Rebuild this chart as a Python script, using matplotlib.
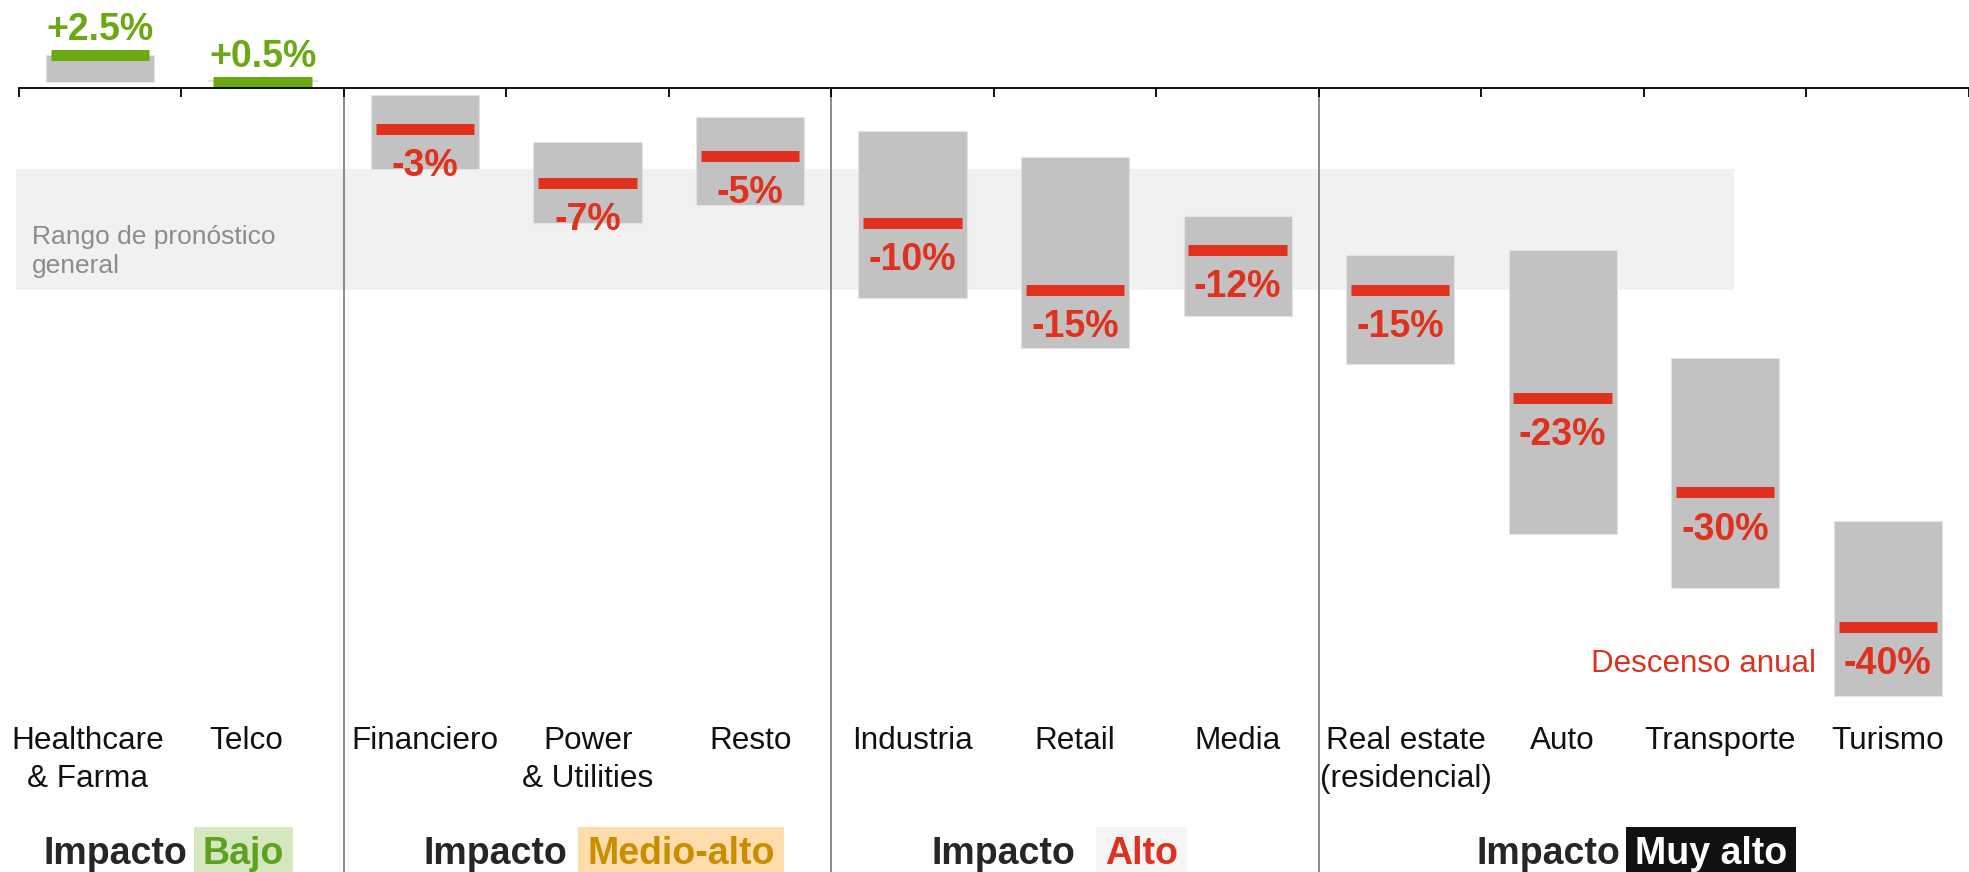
import matplotlib.pyplot as plt
import numpy as np

plt.rcParams['font.family'] = ['Liberation Sans', 'DejaVu Sans']

# descenso anual estimado por sector y rango de pronóstico (%)
sectores = ['Healthcare\n& Farma', 'Telco', 'Financiero', 'Power\n& Utilities', 'Resto',
            'Industria', 'Retail', 'Media', 'Real estate\n(residencial)', 'Auto',
            'Transporte', 'Turismo']
descenso = [2.5, 0.5, -3, -7, -5, -10, -15, -12, -15, -23, -30, -40]
rango_min = [0.5, 0.55, -6.0, -10.0, -8.7, -15.6, -19.3, -16.9, -20.5, -33.1, -37.1, -45.1]
rango_max = [2.5, 0.62, -0.5, -4.0, -2.1, -3.2, -5.1, -9.5, -12.4, -12.0, -20.0, -32.1]
rango_general = (-15, -6)

niveles = ['Bajo', 'Medio-alto', 'Alto', 'Muy alto']
separadores = [2, 5, 8]

# estilos
GRIS = '#c2c2c2'
ROJO = '#e0301e'
VERDE = '#6aa914'
color_nivel = ['#5aa21f', '#c98e00', ROJO, 'white']
fondo_nivel = ['#d4e7bf', '#fedcab', '#f5f5f5', '#111111']
x_impacto = [1.035, 3.375, 6.502, 9.853]
x_nivel = [1.131, 3.497, 6.683, 9.945]
desplaz = [-0.075, -0.104, 0, 0, 0, 0, 0, 0, 0.038, 0, -0.035, 0]

fig = plt.figure(figsize=(19.69, 8.72), dpi=100)
ax = fig.add_axes([0, 0, 1, 1])
ax.set_xlim(-19 / 163.5, 1950 / 163.5)
ax.set_ylim(-58.18, 6.555)

x = np.arange(len(sectores)) + 0.5

# banda del rango general
ax.fill_between([-0.018, 10.557], rango_general[0], rango_general[1],
                color='#f1f1f1', lw=0, zorder=0)

# separadores de grupos
ax.vlines(separadores, -58.18, 0, colors='#8a8a8a', lw=1.4, zorder=1)

# cajas de rango
alto = np.array(rango_max) - np.array(rango_min)
ax.bar(x, alto, bottom=rango_min, width=0.667, color=GRIS,
       edgecolor='#e4e4e4', lw=0.8, zorder=2)

# barras de valor
colores = [VERDE if v > 0 else ROJO for v in descenso]
ax.hlines(descenso, x - 0.303, x + 0.303, colors=colores, lw=7.9, zorder=3)

for xi, v, c in zip(x, descenso, colores):
    y = v + 1.1 if v > 0 else v - 3.5
    ax.text(xi, y, f'{v:+g}%', ha='center', va='baseline', fontsize=27,
            weight='bold', color=c, zorder=4)

# eje horizontal con marcas
for s in ['left', 'right', 'top']:
    ax.spines[s].set_visible(False)
ax.spines['bottom'].set_position(('data', 0))
ax.spines['bottom'].set_bounds(0, 12)
ax.spines['bottom'].set_linewidth(1.3)
ax.spines['bottom'].set_zorder(5)
ax.set_xticks(range(13))
ax.set_xticklabels([])
ax.set_yticks([])
ax.tick_params(axis='x', direction='out', length=6.5, width=1.3, color='black')

# nombres de sector (la línea base indicada es la de la última línea)
for xi, nombre, d in zip(x, sectores, desplaz):
    n = nombre.count('\n')
    ax.text(xi + d, -49.07 - 2.78 * n, nombre, ha='center', va='baseline',
            fontsize=22.7, color='#111111', linespacing=1.32)

ax.text(0.08, -13.73, 'Rango de pronóstico\ngeneral', ha='left', va='baseline',
        fontsize=19, color='#8c8c8c', linespacing=1.3, zorder=1)
ax.text(11.06, -43.36, 'Descenso anual', ha='right', va='baseline',
        fontsize=22.6, color=ROJO)

for xi, xn, nivel, c, f in zip(x_impacto, x_nivel, niveles, color_nivel, fondo_nivel):
    ax.text(xi, -57.59, 'Impacto', ha='right', va='baseline', fontsize=27,
            weight='bold', color='#262626')
    ax.text(xn, -57.59, nivel, ha='left', va='baseline', fontsize=27,
            weight='bold', color=c,
            bbox=dict(boxstyle='square,pad=0.24', fc=f, ec='none'))

fig.savefig('out.png', dpi=100)
